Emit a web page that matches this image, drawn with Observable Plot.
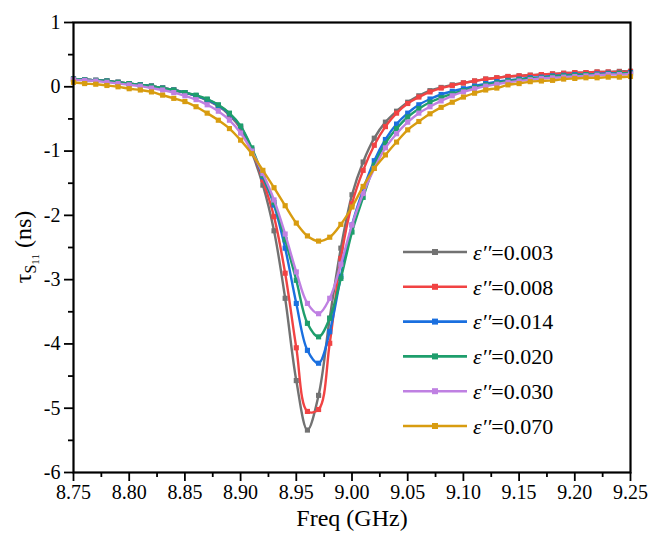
<!DOCTYPE html>
<html><head><meta charset="utf-8">
<script src="https://cdn.jsdelivr.net/npm/d3@7"></script>
<script src="https://cdn.jsdelivr.net/npm/@observablehq/plot@0.6"></script>
<style>
html,body{margin:0;padding:0;background:#fff;}
#chart{position:relative;width:654px;height:546px;}
</style></head><body><div id="chart"></div>
<script>
const freq = [8.75,8.76,8.77,8.78,8.79,8.80,8.81,8.82,8.83,8.84,8.85,8.86,8.87,8.88,8.89,8.90,8.91,8.92,8.93,8.94,8.95,8.96,8.97,8.98,8.99,9.00,9.01,9.02,9.03,9.04,9.05,9.06,9.07,9.08,9.09,9.10,9.11,9.12,9.13,9.14,9.15,9.16,9.17,9.18,9.19,9.20,9.21,9.22,9.23,9.24,9.25];
const seriesLabels = ["0.003","0.008","0.014","0.020","0.030","0.070"];
const seriesColors = ["#727272","#f14343","#1a6fdf","#1e9e6c","#bf80e2","#d89c10"];
const eps003 = [0.12,0.11,0.10,0.09,0.07,0.05,0.03,0.01,-0.02,-0.05,-0.09,-0.14,-0.21,-0.30,-0.44,-0.65,-1.02,-1.53,-2.24,-3.29,-4.57,-5.34,-4.80,-3.60,-2.51,-1.68,-1.17,-0.80,-0.55,-0.38,-0.24,-0.14,-0.06,-0.01,0.03,0.06,0.09,0.12,0.14,0.16,0.17,0.18,0.19,0.20,0.21,0.22,0.22,0.23,0.23,0.24,0.24];
const eps008 = [0.12,0.11,0.10,0.09,0.07,0.05,0.03,0.01,-0.02,-0.05,-0.09,-0.14,-0.20,-0.29,-0.42,-0.63,-0.98,-1.45,-2.02,-2.90,-4.06,-5.05,-5.02,-3.99,-2.67,-1.82,-1.30,-0.91,-0.62,-0.41,-0.26,-0.16,-0.08,-0.02,0.02,0.06,0.09,0.12,0.14,0.16,0.17,0.18,0.19,0.20,0.21,0.22,0.22,0.23,0.23,0.23,0.24];
const eps014 = [0.12,0.11,0.10,0.09,0.07,0.05,0.03,0.01,-0.02,-0.05,-0.09,-0.14,-0.20,-0.29,-0.42,-0.62,-0.97,-1.40,-1.84,-2.51,-3.37,-4.10,-4.30,-3.81,-2.95,-2.15,-1.60,-1.15,-0.82,-0.58,-0.41,-0.28,-0.19,-0.12,-0.07,-0.03,0.01,0.05,0.08,0.10,0.12,0.14,0.15,0.17,0.18,0.19,0.19,0.20,0.21,0.21,0.22];
const eps020 = [0.12,0.11,0.10,0.09,0.07,0.05,0.03,0.01,-0.02,-0.05,-0.09,-0.13,-0.19,-0.28,-0.41,-0.61,-0.95,-1.38,-1.80,-2.38,-3.01,-3.68,-3.89,-3.60,-2.98,-2.26,-1.72,-1.22,-0.88,-0.65,-0.47,-0.34,-0.24,-0.17,-0.11,-0.06,-0.01,0.03,0.06,0.09,0.11,0.13,0.14,0.16,0.17,0.18,0.19,0.19,0.20,0.21,0.21];
const eps030 = [0.11,0.10,0.09,0.07,0.05,0.03,0.01,-0.02,-0.05,-0.09,-0.14,-0.20,-0.28,-0.38,-0.52,-0.72,-1.00,-1.35,-1.76,-2.29,-2.88,-3.37,-3.53,-3.29,-2.76,-2.15,-1.66,-1.27,-0.95,-0.73,-0.55,-0.41,-0.31,-0.22,-0.14,-0.08,-0.03,0.01,0.04,0.07,0.09,0.11,0.13,0.14,0.15,0.16,0.17,0.18,0.19,0.19,0.20];
const eps070 = [0.07,0.05,0.04,0.02,0.00,-0.03,-0.05,-0.08,-0.13,-0.18,-0.23,-0.31,-0.41,-0.52,-0.65,-0.83,-1.04,-1.30,-1.57,-1.85,-2.12,-2.32,-2.40,-2.34,-2.14,-1.87,-1.55,-1.27,-1.06,-0.86,-0.67,-0.54,-0.42,-0.32,-0.24,-0.16,-0.10,-0.05,-0.02,0.03,0.05,0.08,0.09,0.10,0.12,0.13,0.14,0.14,0.15,0.15,0.16];
const xTicks = [8.75,8.80,8.85,8.90,8.95,9.00,9.05,9.10,9.15,9.20,9.25];
const xMinorTicks = [8.775,8.825,8.875,8.925,8.975,9.025,9.075,9.125,9.175,9.225];
const yTicks = [1,0,-1,-2,-3,-4,-5,-6];
const yMinorTicks = [0.5,-0.5,-1.5,-2.5,-3.5,-4.5,-5.5];
const xTitle = "Freq (GHz)";

const seriesValues = [eps003, eps008, eps014, eps020, eps030, eps070];
const font = "'Liberation Serif', 'Times New Roman', serif";

const seriesMarks = [];
seriesValues.forEach((vals, k) => {
  const rows = vals.map((v, i) => ({f: freq[i], v}));
  seriesMarks.push(Plot.line(rows, {x: "f", y: "v", stroke: seriesColors[k], strokeWidth: 2.4, curve: "catmull-rom"}));
  seriesMarks.push(Plot.dot(rows, {x: "f", y: "v", fill: seriesColors[k], symbol: "square", r: 2.9}));
});

const plot = Plot.plot({
  width: 654, height: 546,
  marginLeft: 73, marginRight: 24, marginTop: 22, marginBottom: 74,
  style: {fontFamily: font, fontSize: "20px", color: "#000", background: "#fff", overflow: "visible"},
  x: {domain: [8.75, 9.25]},
  y: {domain: [-6, 1]},
  marks: [
    Plot.axisX({ticks: xTicks, tickFormat: d => d.toFixed(2), tickSize: 9, tickPadding: 3, strokeWidth: 1.8, label: null, fontSize: 20}),
    Plot.axisX({ticks: xMinorTicks, tickSize: 5, strokeWidth: 1.8, fill: "none", label: null}),
    Plot.axisY({ticks: yTicks, tickFormat: d => String(d), tickSize: 9, tickPadding: 4, strokeWidth: 1.8, label: null, fontSize: 20}),
    Plot.axisY({ticks: yMinorTicks, tickSize: 5, strokeWidth: 1.8, fill: "none", label: null}),
    ...seriesMarks,
    Plot.frame({stroke: "#000", strokeWidth: 2.2}),
    Plot.text([xTitle], {frameAnchor: "bottom", dy: 53, fontSize: 24, fill: "#000"})
  ]
});
document.getElementById("chart").appendChild(plot);

const svg = d3.select(plot);
// y axis title with subscripts
const yl = svg.append("text")
  .attr("transform", "translate(31,247) rotate(-90)")
  .attr("text-anchor", "middle")
  .attr("font-family", font)
  .attr("font-size", 24)
  .attr("fill", "#000");
yl.append("tspan").text("τ");
yl.append("tspan").attr("font-size", 16).attr("dy", 5).text("S");
yl.append("tspan").attr("font-size", 11).attr("dy", 3).text("11");
yl.append("tspan").attr("font-size", 24).attr("dy", -8).text(" (ns)");

// legend
const lg = svg.append("g").attr("font-family", font).attr("font-size", 22).attr("fill", "#000").attr("text-anchor", "start");
const lgX0 = 403, lgX1 = 467, lgTextX = 473, lgY0 = 252, lgStep = 34.8;
seriesLabels.forEach((lab, k) => {
  const y = lgY0 + k * lgStep;
  lg.append("line").attr("x1", lgX0).attr("x2", lgX1).attr("y1", y).attr("y2", y)
    .attr("stroke", seriesColors[k]).attr("stroke-width", 2.6);
  lg.append("rect").attr("x", (lgX0 + lgX1) / 2 - 3).attr("y", y - 3).attr("width", 6).attr("height", 6)
    .attr("fill", seriesColors[k]);
  const t = lg.append("text").attr("x", lgTextX).attr("y", y).attr("dy", "0.35em").attr("text-anchor", "start");
  t.append("tspan").attr("font-style", "italic").text("ε′′");
  t.append("tspan").text("=" + lab);
});
</script>
</body></html>
